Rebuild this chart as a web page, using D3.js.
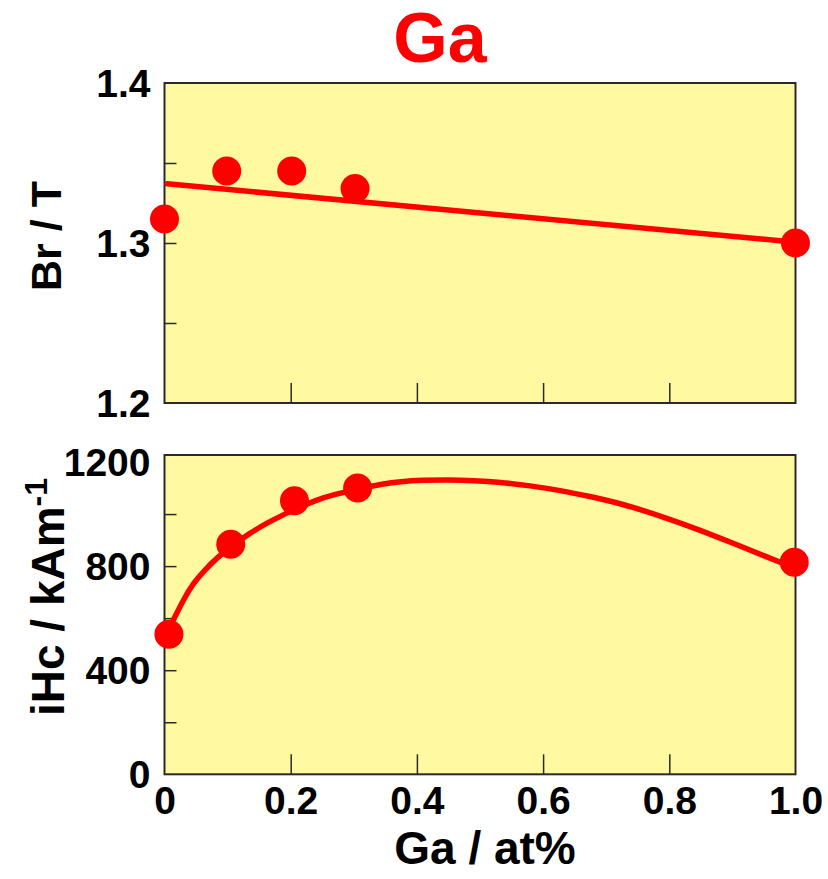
<!DOCTYPE html>
<html>
<head>
<meta charset="utf-8">
<script src="https://cdn.jsdelivr.net/npm/d3@7"></script>
<style>
  html, body { margin: 0; padding: 0; background: #fff; }
  svg text { font-family: "Liberation Sans", Arial, Helvetica, sans-serif; font-weight: bold; }
</style>
</head>
<body>
<svg id="chart" width="828" height="879"></svg>
<script>
// Ga addition: remanence Br and coercivity iHc
const gaBr = [0.0, 0.0986, 0.2016, 0.302, 1.0];
const brValues = [1.315, 1.345, 1.345, 1.334, 1.300];
// linear trend for Br (end points)
const brFitX = [0.004, 1.0];
const brFitY = [1.337, 1.3005];

const gaHc = [0.007, 0.105, 0.206, 0.306, 0.998];
const hcValues = [538, 884, 1051, 1100, 815];
// smooth trend curve for iHc
const hcFitX = [0.007, 0.0166, 0.0298, 0.0456, 0.0642, 0.0827, 0.105, 0.1355, 0.162, 0.188, 0.206, 0.241, 0.2675, 0.306, 0.347, 0.373, 0.41, 0.45, 0.49, 0.532, 0.579, 0.627, 0.674, 0.722, 0.796, 0.849, 0.901, 0.954, 0.998];
const hcFitY = [560, 605, 670, 735, 786, 831, 875, 927, 965, 997, 1017, 1055, 1074, 1096, 1117, 1125, 1130, 1132, 1129, 1123, 1109, 1091, 1068, 1042, 985, 938, 888, 836, 793];

const xTicks = [0.2, 0.4, 0.6, 0.8];
const xLabels = [0, 0.2, 0.4, 0.6, 0.8, 1.0];
const brTicks = [1.25, 1.3, 1.35];
const brLabels = [1.2, 1.3, 1.4];
const hcTicks = [200, 400, 600, 800, 1000];
const hcLabels = [0, 400, 800, 1200];

const RED = "#ff0000";
const BG = "#fffaa2";
const FRAME = "#2a2a2a";
const TICK_FONT = 39;

const svg = d3.select("#chart");

const x = d3.scaleLinear().domain([0, 1]).range([164.5, 795.5]);
const yBr = d3.scaleLinear().domain([1.2, 1.4]).range([403, 83]);
const yHc = d3.scaleLinear().domain([0, 1227]).range([774.3, 455]);

function panel(y, yTicks, yLabels, yFmt, ptsX, ptsY, fitX, fitY, curve) {
  const [y0, y1] = y.range();
  const g = svg.append("g");
  g.append("rect")
    .attr("x", x.range()[0]).attr("y", y1)
    .attr("width", x.range()[1] - x.range()[0]).attr("height", y0 - y1)
    .attr("fill", BG);

  // inward ticks
  const yt = g.append("g").attr("transform", `translate(${x.range()[0]},0)`)
    .call(d3.axisLeft(y).tickValues(yTicks).tickSize(-12).tickFormat(""));
  yt.select(".domain").remove();
  yt.selectAll("line").attr("stroke", FRAME).attr("stroke-width", 1.5);

  const xt = g.append("g").attr("transform", `translate(0,${y0})`)
    .call(d3.axisBottom(x).tickValues(xTicks).tickSize(-20).tickFormat(""));
  xt.select(".domain").remove();
  xt.selectAll("line").attr("stroke", FRAME).attr("stroke-width", 1.5);

  // y labels
  const yl = g.append("g").attr("transform", `translate(${x.range()[0]},0)`)
    .call(d3.axisLeft(y).tickValues(yLabels).tickSize(0).tickPadding(14).tickFormat(yFmt));
  yl.select(".domain").remove();
  yl.selectAll("text").attr("font-size", TICK_FONT).attr("fill", "#000").attr("dy", "0.35em");

  // frame
  g.append("rect")
    .attr("x", x.range()[0]).attr("y", y1)
    .attr("width", x.range()[1] - x.range()[0]).attr("height", y0 - y1)
    .attr("fill", "none").attr("stroke", FRAME).attr("stroke-width", 2);

  const line = d3.line().x(d => x(d[0])).y(d => y(d[1])).curve(curve);
  g.append("path")
    .datum(fitX.map((v, i) => [v, fitY[i]]))
    .attr("d", line)
    .attr("fill", "none").attr("stroke", RED).attr("stroke-width", 5.5)
    .attr("stroke-linecap", "round");

  g.selectAll("circle.pt")
    .data(ptsX.map((v, i) => [v, ptsY[i]]))
    .join("circle")
    .attr("class", "pt")
    .attr("cx", d => x(d[0])).attr("cy", d => y(d[1]))
    .attr("r", 14.5).attr("fill", RED);
  return g;
}

panel(yBr, brTicks, brLabels, d3.format(".1f"), gaBr, brValues, brFitX, brFitY, d3.curveLinear);
panel(yHc, hcTicks, hcLabels, d3.format("d"), gaHc, hcValues, hcFitX, hcFitY, d3.curveBasis);

// x labels under the lower panel
const xl = svg.append("g").attr("transform", `translate(0,${yHc.range()[0]})`)
  .call(d3.axisBottom(x).tickValues(xLabels).tickSize(0).tickPadding(12)
    .tickFormat(d => d === 0 ? "0" : d3.format(".1f")(d)));
xl.select(".domain").remove();
xl.selectAll("text").attr("font-size", TICK_FONT).attr("fill", "#000");

// titles
svg.append("text").attr("x", 440).attr("y", 62).attr("text-anchor", "middle")
  .attr("font-size", 70).attr("fill", RED).text("Ga");

svg.append("text").attr("transform", "translate(61,236) rotate(-90)")
  .attr("text-anchor", "middle").attr("font-size", 43).attr("fill", "#000").text("Br / T");

const hcTitle = svg.append("text").attr("transform", "translate(64,597) rotate(-90)")
  .attr("text-anchor", "middle").attr("font-size", 46).attr("fill", "#000");
hcTitle.append("tspan").text("iHc / kAm");
hcTitle.append("tspan").attr("font-size", 32).attr("dy", -17).text("-1");

svg.append("text").attr("x", 485).attr("y", 864).attr("text-anchor", "middle")
  .attr("font-size", 46).attr("fill", "#000").text("Ga / at%");
</script>
</body>
</html>
